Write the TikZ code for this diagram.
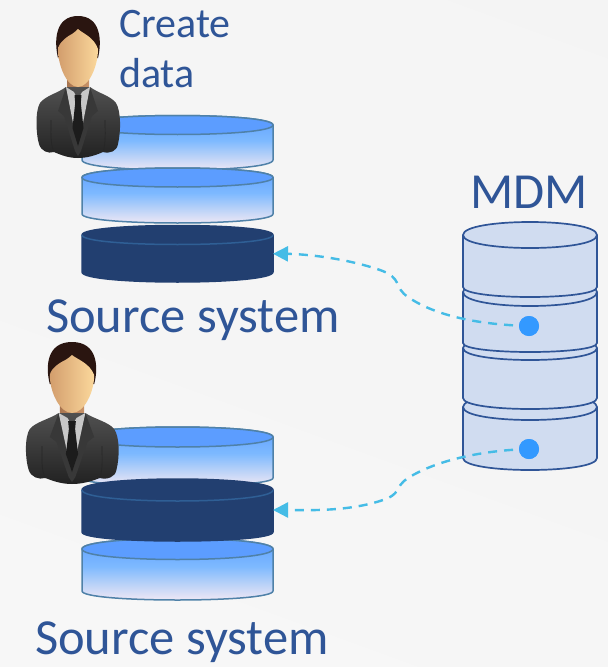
\documentclass[tikz,border=0pt]{standalone}
\usepackage{fontspec}
\setmainfont{Carlito}
\usetikzlibrary{arrows.meta}
\definecolor{txtblue}{HTML}{2F5597}
\definecolor{cylline}{HTML}{4F81A8}
\definecolor{cyltop}{HTML}{5C9DFF}
\definecolor{darkcyl}{HTML}{223F70}
\definecolor{darkline}{HTML}{2F5F95}
\definecolor{mdmfill}{HTML}{D0DCF0}
\definecolor{linkblue}{HTML}{45BCE6}
\definecolor{dotblue}{HTML}{3399FF}
\definecolor{gA}{HTML}{F0E8F5}
\definecolor{gB}{HTML}{B5D0F8}
\definecolor{gC}{HTML}{7DB9FF}
\definecolor{gD}{HTML}{5C9DFF}
\definecolor{bgA}{HTML}{F9F9F9}
\definecolor{bgB}{HTML}{F5F5F5}
\definecolor{bgC}{HTML}{F4F4F4}
\pgfdeclareverticalshading{cylgrad}{100bp}{color(0bp)=(gA);color(27bp)=(gA);color(40bp)=(gB);color(52bp)=(gC);color(75bp)=(gD);color(100bp)=(gD)}
\pgfdeclareverticalshading{bggrad}{100bp}{color(0bp)=(bgA);color(50bp)=(bgB);color(100bp)=(bgC)}
\tikzset{
  lighttext/.style={text=txtblue,anchor=base west,inner sep=0pt},
  link/.style={draw=linkblue,line width=2.4pt,dash pattern=on 9pt off 7pt,-{Triangle[length=15pt,width=15pt,fill=linkblue]}},
  dbdot/.style={circle,fill=dotblue,inner sep=0pt,minimum size=20pt},
  anchorbox/.style={inner sep=0pt,outer sep=0pt}
}
% #1 name, #2 xl, #3 xr, #4 top-ellipse centre, #5 top ry, #6 side bottom, #7 extreme bottom
\newcommand\lightcyl[7]{%
  \path[shading=cylgrad,draw=cylline,line width=1.5pt]
    (#2,#4) -- (#2,#6) .. controls (#2,#6+1.333*#7-1.333*#6) and (#3,#6+1.333*#7-1.333*#6) .. (#3,#6)
    -- (#3,#4) .. controls (#3,#4-1.333*#5) and (#2,#4-1.333*#5) .. (#2,#4) -- cycle;
  \path[fill=cyltop,draw=cylline,line width=1.5pt]
    (#2,#4) .. controls (#2,#4-1.333*#5) and (#3,#4-1.333*#5) .. (#3,#4)
    .. controls (#3,#4+1.333*#5) and (#2,#4+1.333*#5) .. (#2,#4) -- cycle;
  \node[anchorbox,minimum width=#3pt-#2pt,minimum height=#7pt-#4pt+#5pt] (#1) at ({(#2+#3)/2},{(#4-#5+#7)/2}) {};
}
\newcommand\darkcylinder[7]{%
  \path[fill=darkcyl,draw=darkcyl,line width=1.5pt]
    (#2,#4) -- (#2,#6) .. controls (#2,#6+1.333*#7-1.333*#6) and (#3,#6+1.333*#7-1.333*#6) .. (#3,#6)
    -- (#3,#4) .. controls (#3,#4-1.333*#5) and (#2,#4-1.333*#5) .. (#2,#4) -- cycle;
  \path[draw=darkline,line width=1.5pt]
    (#2,#4) .. controls (#2,#4+1.333*#5) and (#3,#4+1.333*#5) .. (#3,#4);
  \node[anchorbox,minimum width=#3pt-#2pt,minimum height=#7pt-#4pt+#5pt] (#1) at ({(#2+#3)/2},{(#4-#5+#7)/2}) {};
}
% #1 corner top, #2 corner bottom, #3 extreme bottom, #4 arc bottom
\newcommand\mdmseg[4]{%
  \path[fill=mdmfill,draw=txtblue,line width=1.7pt]
    (463,#1) -- (463,#2) .. controls (463,#2+1.333*#3-1.333*#2) and (597,#2+1.333*#3-1.333*#2) .. (597,#2)
    -- (597,#1) .. controls (597,#1-1.333*#4+1.333*#1) and (463,#1-1.333*#4+1.333*#1) .. (463,#1) -- cycle;
  \path[draw=txtblue,line width=1.7pt]
    (463,#1) .. controls (463,#1+1.333*#4-1.333*#1) and (597,#1+1.333*#4-1.333*#1) .. (597,#1);
}
\definecolor{neckL}{HTML}{A87550}
\definecolor{neckR}{HTML}{C99368}
\definecolor{suitT}{HTML}{505050}
\definecolor{suitB}{HTML}{222222}
\definecolor{shirtc}{HTML}{C8C8C8}
\definecolor{tiec}{HTML}{1C1C1C}
\definecolor{hairc}{HTML}{2A1510}
\definecolor{faceL}{HTML}{D39E6D}
\definecolor{faceR}{HTML}{FBD89C}
% #1 x, #2 y, #3 xscale
\newcommand\person[3]{%
  \begin{scope}[shift={(#1,#2)},xscale=#3]
    \path[left color=neckL,right color=neckR] (-11,58) -- (11,58) -- (11,76) -- (0,84) -- (-11,76) -- cycle;
    % suit
    \path[top color=suitT,bottom color=suitB]
      (-12,71) .. controls (-20,77) and (-33,80) .. (-38,87)
      .. controls (-43,95) and (-42,118) .. (-39,128)
      .. controls (-37,135) and (-30,138) .. (-24,136)
      .. controls (-15,140) and (-8,142) .. (0,142)
      .. controls (8,142) and (16,140) .. (25,136)
      .. controls (32,138) and (39,135) .. (40,128)
      .. controls (43,115) and (43,95) .. (38,87)
      .. controls (33,80) and (20,77) .. (12,71) -- cycle;
    % arm creases
    \draw[black!85,line width=.7pt] (-27,104) .. controls (-27,115) and (-28,128) .. (-24,136);
    \draw[black!85,line width=.7pt] (27,104) .. controls (27,115) and (28,128) .. (25,136);
    % lapels
    \path[fill=black!78] (-12,71) -- (-20,95) -- (-14,100) -- (-3,135) -- (0,140) -- (3,135) -- (14,100) -- (20,95) -- (12,71) -- (4,112) -- (-4,112) -- cycle;
    % shirt
    \path[fill=shirtc] (-12,71) -- (-4,76) -- (0,84) -- (4,76) -- (12,71) -- (4,112) -- (-4,112) -- cycle;
    % tie
    \path[fill=tiec] (-3.5,79) -- (3.5,79) -- (2.8,87) -- (5.5,112) -- (0,130) -- (-5.5,112) -- (-2.8,87) -- cycle;
    % hair
    \path[fill=hairc] (-20,42) .. controls (-24,25) and (-23,0) .. (0,0)
      .. controls (23,0) and (24,25) .. (20,42) -- cycle;
    % face
    \path[left color=faceL,right color=faceR]
      (-20,33) .. controls (-19,26) and (-10,20) .. (-6,18)
      .. controls (-3,16) and (-1,14) .. (0,13)
      .. controls (4,17) and (16,21) .. (20,33)
      .. controls (20,50) and (11,71) .. (0,71)
      .. controls (-11,71) and (-20,50) .. (-20,33) -- cycle;
  \end{scope}%
}
\begin{document}
\begin{tikzpicture}[x=1pt,y=-1pt]
  \useasboundingbox (0,0) rectangle (608,667);
  \begin{scope}
  \clip (0,0) rectangle (608,667);
  \path[shading=bggrad,shading angle=-20] (-40,-40) rectangle (648,707);
  \end{scope}

  % top stack
  \lightcyl{a1}{82}{273}{125}{9.5}{160}{170}
  \lightcyl{a2}{82}{273}{177.5}{9.5}{214}{223}
  \darkcylinder{a3}{82}{273}{235}{9.5}{272}{282}

  % bottom stack
  \lightcyl{b1}{82}{273}{437}{10}{478}{486}
  \lightcyl{b3}{82}{273}{549}{10.5}{591}{600}
  \darkcylinder{b2}{82}{273}{490}{11}{532}{541}

  % MDM database
  \mdmseg{407}{458}{470}{420}
  \mdmseg{348}{398}{409}{360}
  \mdmseg{292}{343}{352}{306}
  \mdmseg{235}{287}{297}{248}

  % dots and connectors
  \node[dbdot] (d1) at (529,326) {};
  \node[dbdot] (d2) at (529,449) {};
  \draw[link] (d1.center) .. controls (490,325) and (440,319) .. (408,297)
     .. controls (393,287) and (403,278) .. (380,270)
     .. controls (345,258) and (305,254) .. (a3.east);
  \draw[link] (d2.center) .. controls (490,450) and (440,458) .. (408,478)
     .. controls (393,488) and (403,494) .. (380,501)
     .. controls (345,512) and (305,510) .. (b2.east);
  \node[dbdot] at (d1.center) {};
  \node[dbdot] at (d2.center) {};

  % people
  \person{78}{16}{1}
  \person{72}{342}{1.11}

  % labels
  \node[lighttext,font=\fontsize{42}{42}\selectfont] (t1) at (119,37) {Create};
  \node[lighttext,font=\fontsize{42}{42}\selectfont] (t2) at (119,87) {data};
  \node[lighttext,font=\fontsize{50.5}{51}\selectfont] (t3) at (46,332) {Source system};
  \node[lighttext,font=\fontsize{50.5}{51}\selectfont] (t4) at (35,654) {Source system};
  \node[lighttext,font=\fontsize{50.5}{51}\selectfont] (t5) at (470,208) {MDM};
\end{tikzpicture}
\end{document}
